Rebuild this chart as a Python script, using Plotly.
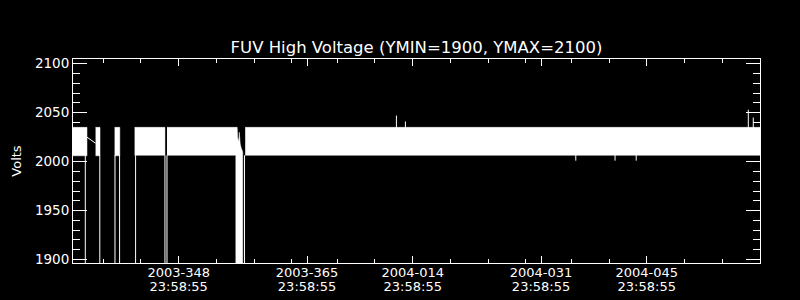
import plotly.graph_objects as go

# Time axis: days since 2003-001 00:00 UT
x_range = [334.0, 425.0]
y_range = [1896.5, 2104.8]

# Labelled (major) ticks and unlabelled (minor) ticks
tick_vals = [347.999, 364.999, 378.999, 395.999, 409.999]
tick_dates = ["2003-348", "2003-365", "2004-014", "2004-031", "2004-045"]
tick_times = ["23:58:55", "23:58:55", "23:58:55", "23:58:55", "23:58:55"]
minor_vals = [338, 343, 353, 358, 363, 369, 374, 384, 389, 394, 400, 405, 415, 420]

# Dense noisy band of the voltage readings (envelope per continuous segment)
seg_start = [334.00, 336.99, 339.51, 342.16, 346.45, 356.81]
seg_end = [335.85, 337.58, 340.20, 346.18, 355.53, 425.00]
seg_hi = [2035.0, 2035.0, 2035.0, 2035.0, 2035.0, 2035.0]
seg_lo = [2006.0, 2006.0, 2006.0, 2006.5, 2006.5, 2006.5]

# Cluster of drop-outs around 2003-355/356 (top envelope; bottom is off scale)
block_t = [355.53, 355.75, 355.80, 355.95, 356.03, 356.08, 356.15, 356.28, 356.48]
block_top = [2035.0, 2035.0, 2025.0, 2020.0, 2030.0, 2021.0, 2018.0, 2014.0, 2010.0]
block_bottom = 1880.0

# Single drop-out readings (fall below the plotted range)
drop_t = [335.63, 337.55, 339.56, 340.17, 342.29, 346.18, 346.45, 356.72]
drop_v = [1880.0, 1880.0, 1880.0, 1880.0, 1880.0, 1880.0, 1880.0, 1880.0]

# Line joining across the data gap after the first segment
gap_t = [335.85, 336.99]
gap_v = [2025.0, 2018.8]

# Isolated spikes out of the band
spike_t = [376.84, 378.03, 423.45, 424.11, 400.6, 405.8, 408.6]
spike_v = [2047.0, 2041.0, 2053.0, 2045.0, 2001.0, 2001.0, 2001.0]

band_x, band_y = [], []
for s, e, hi, lo in zip(seg_start, seg_end, seg_hi, seg_lo):
    band_x += [s, e, e, s, None]
    band_y += [hi, hi, lo, lo, None]
band_x += block_t + block_t[::-1] + [None]
band_y += block_top + [block_bottom] * len(block_t) + [None]

line_x, line_y = [], []
for t, v in zip(drop_t, drop_v):
    line_x += [t, t, None]
    line_y += [seg_lo[-1], v, None]
for t, v in zip(spike_t, spike_v):
    line_x += [t, t, None]
    line_y += [2020.0, v, None]
line_x += gap_t + [None]
line_y += gap_v + [None]

fig = go.Figure()
fig.add_trace(go.Scatter(x=band_x, y=band_y, mode="lines", fill="toself",
                         fillcolor="white", line=dict(color="white", width=0.5),
                         hoverinfo="skip", showlegend=False))
fig.add_trace(go.Scatter(x=line_x, y=line_y, mode="lines", xaxis="x2",
                         line=dict(color="white", width=1),
                         hoverinfo="skip", showlegend=False))

font = "DejaVu Sans"
fig.update_layout(
    width=800, height=300,
    paper_bgcolor="black", plot_bgcolor="black",
    margin=dict(l=73, r=40, t=59, b=37, pad=0),
    font=dict(family=font, color="white", size=13),
    title=dict(text="FUV High Voltage (YMIN=1900, YMAX=2100)",
               x=0.5, xref="paper", xanchor="center",
               y=1 - 47 / 300, yref="container", yanchor="middle",
               font=dict(family=font, size=16.5, color="white")),
    showlegend=False,
    xaxis=dict(
        range=x_range, showgrid=False, zeroline=False, automargin=False,
        showline=True, linecolor="white", linewidth=1, mirror="ticks",
        ticks="inside", ticklen=7, tickwidth=1, tickcolor="white",
        tickmode="array", tickvals=tick_vals, ticktext=tick_dates,
        ticklabelstandoff=-3,
        tickfont=dict(family=font, size=13, color="white"),
        minor=dict(tickmode="array", tickvals=minor_vals, ticks="inside",
                   ticklen=4, tickwidth=1, tickcolor="white", showgrid=False),
    ),
    xaxis2=dict(
        range=x_range, matches="x", overlaying="x", side="bottom", anchor="y",
        showgrid=False, zeroline=False, automargin=False, showline=False,
        ticks="", tickmode="array", tickvals=tick_vals, ticktext=tick_times,
        ticklabelstandoff=14,
        tickfont=dict(family=font, size=13, color="white"),
    ),
    yaxis=dict(
        range=y_range, showgrid=False, zeroline=False, automargin=False,
        showline=True, linecolor="white", linewidth=1, mirror="ticks",
        ticks="inside", ticklen=14, tickwidth=1, tickcolor="white",
        tickmode="array", tickvals=[1900, 1950, 2000, 2050, 2100],
        tickfont=dict(family=font, size=13.5, color="white"),
        minor=dict(dtick=10, ticks="inside", ticklen=7, tickwidth=1,
                   tickcolor="white", showgrid=False),
        title=dict(text="Volts", font=dict(family=font, size=13, color="white"),
                   standoff=10),
    ),
)

fig.write_html("out.html")
